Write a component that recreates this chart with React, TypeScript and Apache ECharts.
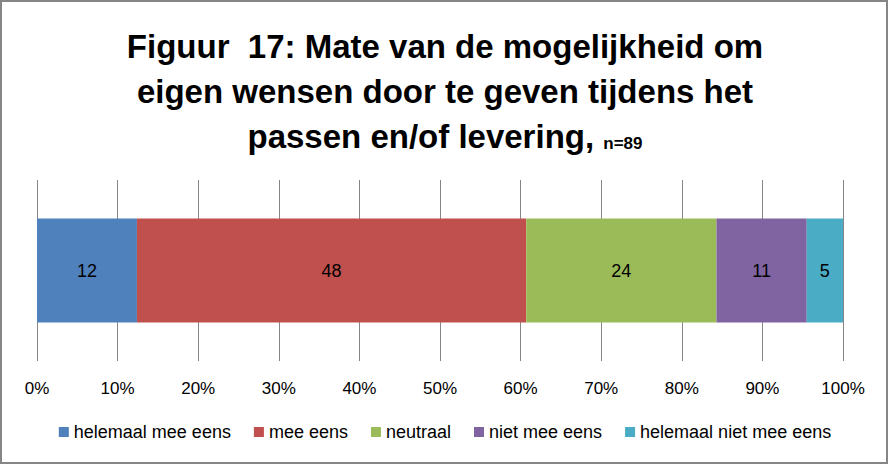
import React, { useEffect, useRef } from "react";
import * as echarts from "echarts";

const categories = ["n=89"];
const seriesNames = [
  "helemaal mee eens",
  "mee eens",
  "neutraal",
  "niet mee eens",
  "helemaal niet mee eens",
];
const seriesValues = [12.4, 48.3, 23.6, 11.2, 4.5];
const seriesLabels = ["12", "48", "24", "11", "5"];
const colors = ["#4f81bd", "#c0504d", "#9bbb59", "#8064a2", "#4bacc6"];
const tickLabels = ["0%", "10%", "20%", "30%", "40%", "50%", "60%", "70%", "80%", "90%", "100%"];

const FONT = "'Liberation Sans', 'Open Sans', sans-serif";

export default function App() {
  const ref = useRef<HTMLDivElement>(null);
  useEffect(() => {
    if (!ref.current) return;
    const chart = echarts.init(ref.current, null, { renderer: "svg" });
    chart.setOption({
      animation: false,
      backgroundColor: "#ffffff",
      textStyle: { fontFamily: FONT },
      title: {
        left: "center",
        top: 19,
        text: "{a|Figuur  17: Mate van de mogelijkheid om}\n{a|eigen wensen door te geven tijdens het}\n{a|passen en/of levering, }{b|n=89}",
        textStyle: {
          rich: {
            a: { fontSize: 33, fontWeight: "bold", color: "#000", fontFamily: FONT, lineHeight: 45 },
            b: { fontSize: 17, fontWeight: "bold", color: "#000", fontFamily: FONT, lineHeight: 30, verticalAlign: "bottom", padding: [0, 0, 7, 0] },
          },
        },
      },
      graphic: [
        {
          type: "rect",
          shape: { x: 1, y: 1, width: 886, height: 462 },
          style: { fill: "none", stroke: "#868686", lineWidth: 2 },
          silent: true,
        },
      ],
      legend: {
        bottom: 18,
        left: "center",
        icon: "rect",
        itemWidth: 10,
        itemHeight: 10,
        itemGap: 23,
        textStyle: { fontSize: 18, color: "#000", fontFamily: FONT },
        data: seriesNames,
      },
      grid: { left: 37, right: 47, top: 180, bottom: 103, containLabel: false },
      xAxis: {
        type: "value",
        min: 0,
        max: 100,
        interval: 10,
        axisLine: { show: false },
        axisTick: { show: false },
        splitLine: { show: true, lineStyle: { color: "#868686", width: 1 } },
        axisLabel: {
          margin: 19,
          fontSize: 17,
          color: "#000",
          fontFamily: FONT,
          formatter: (v: number) => tickLabels[Math.round(v / 10)],
        },
      },
      yAxis: {
        type: "category",
        data: categories,
        show: false,
      },
      series: seriesNames.map((name, i) => ({
        name,
        type: "bar",
        stack: "total",
        barWidth: 104,
        itemStyle: { color: colors[i] },
        label: {
          show: true,
          position: "inside",
          fontSize: 18,
          color: "#000",
          fontFamily: FONT,
          formatter: () => seriesLabels[i],
        },
        data: [seriesValues[i]],
      })),
    });
    return () => chart.dispose();
  }, []);
  return (
    <div
      ref={ref}
      style={{ position: "fixed", left: 0, top: 0, width: 890, height: 464 }}
    />
  );
}
